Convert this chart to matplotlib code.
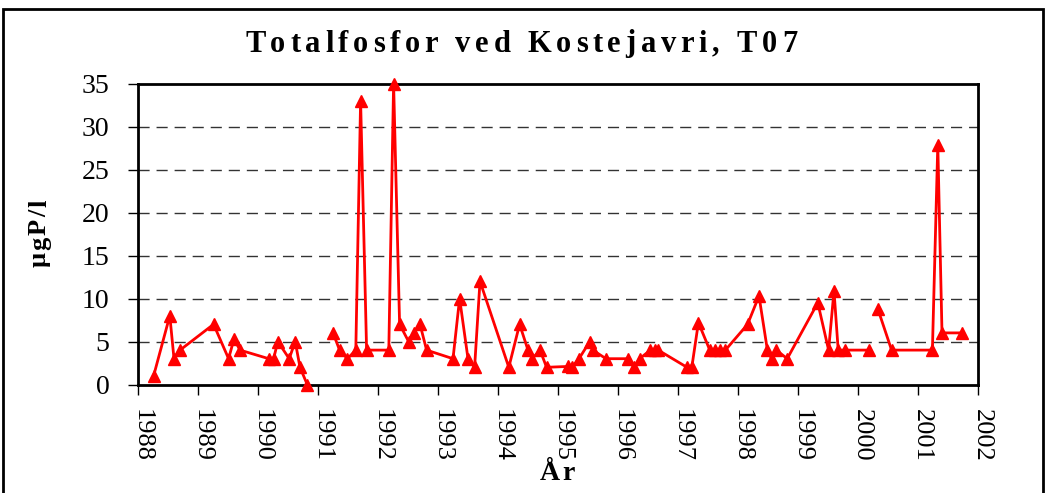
import numpy as np
import matplotlib
matplotlib.use("Agg")
import matplotlib.pyplot as plt
from matplotlib.patches import Rectangle
from matplotlib.transforms import ScaledTranslation
from matplotlib.font_manager import FontProperties, findfont
from matplotlib.ft2font import FT2Font

# Data (decimal year, µgP/l); NaN marks a break in the line
years = [1988.26, 1988.53, 1988.60, 1988.70, 1989.26, 1989.51, 1989.60, 1989.70,
         1990.18, 1990.26, 1990.33, 1990.52, 1990.62, 1990.70, 1990.82, 1991.0,
         1991.25, 1991.36, 1991.49, 1991.63, 1991.71, 1991.81, 1992.18, 1992.26,
         1992.36, 1992.51, 1992.60, 1992.70, 1992.81, 1993.25, 1993.36, 1993.50,
         1993.61, 1993.70, 1994.18, 1994.36, 1994.50, 1994.57, 1994.70, 1994.81,
         1995.17, 1995.23, 1995.35, 1995.53, 1995.58, 1995.80, 1996.16, 1996.27,
         1996.36, 1996.54, 1996.61, 1996.67, 1997.15, 1997.23, 1997.34, 1997.53,
         1997.61, 1997.70, 1997.79, 1998.16, 1998.35, 1998.49, 1998.56, 1998.64,
         1998.82, 1999.33, 1999.51, 1999.60, 1999.67, 1999.79, 2000.18, 2000.25,
         2000.33, 2000.56, 2001.24, 2001.33, 2001.40, 2001.73]
values = [1, 8, 3, 4, 7, 3, 5.3, 4,
          3, 3, 5, 3, 5, 2, 0, np.nan,
          6, 4, 3, 4, 33, 4, 4, 35,
          7, 5, 6, 7, 4, 3, 10, 3,
          2, 12, 2, 7, 4, 3, 4, 2,
          2.1, 2, 3, 5, 4, 3, 3, 2,
          3, 4, 4, 4, 2, 2, 7.2, 4,
          4, 4, 4, 7, 10.3, 4, 3, 4,
          3, 9.5, 4, 10.9, 4, 4, 4, np.nan,
          8.8, 4, 4, 27.9, 6, 6]
xticks = list(range(1988, 2003))
yticks = [0, 5, 10, 15, 20, 25, 30, 35]
title = "Totalfosfor ved Kostejavri, T07"
xlabel = "År"
ylabel = "µgP/l"

serif = ["Liberation Serif", "DejaVu Serif"]
DPI = 100
W, H = 1046, 493

fig = plt.figure(figsize=(W / DPI, H / DPI), dpi=DPI)


def advances(s, size, weight):
    path = findfont(FontProperties(family="Liberation Serif", weight=weight))
    f = FT2Font(path)
    f.set_size(size, DPI)
    return [f.load_char(ord(c)).linearHoriAdvance / 65536.0 for c in s]


def tracked(s, start_px, base_px, length_px, size, weight="bold", vertical=False):
    """Draw text char by char with letter spacing so that it spans length_px.
    start_px/base_px are pixel coords from the top-left corner."""
    adv = advances(s, size, weight)
    track = (length_px - sum(adv)) / (len(s) - 1)
    pos = 0.0
    for c, a in zip(s, adv):
        if vertical:
            x, y = base_px, start_px - pos
            rot = 90
        else:
            x, y = start_px + pos, base_px
            rot = 0
        fig.text(x / W, 1 - y / H, c, family=serif, fontsize=size,
                 fontweight=weight, rotation=rot, rotation_mode="anchor",
                 ha="left", va="baseline")
        pos += a + track


ax = fig.add_axes([138 / W, 1 - 384.5 / H, (978 - 138) / W, (384.5 - 83.5) / H])

ax.plot(years, values, color="#ff0000", lw=2, marker="^", markersize=8,
        markerfacecolor="#ff0000", markeredgecolor="#ff0000", zorder=3,
        clip_on=False)

ax.set_xlim(1988, 2002)
ax.set_ylim(0, 35)
ax.set_xticks(xticks)
ax.set_yticks(yticks)
ax.set_xticklabels([str(t) for t in xticks], rotation=-90, family=serif,
                   fontsize=19)
ax.set_yticklabels([str(t) for t in yticks], family=serif, fontsize=20)
ax.tick_params(direction="out", length=7.5, width=1, color="black")
ax.tick_params(axis="x", pad=10)
ax.tick_params(axis="y", pad=13)
for lab in ax.get_xticklabels():
    lab.set_transform(lab.get_transform() +
                      ScaledTranslation(4 / DPI, 0, fig.dpi_scale_trans))

for y in yticks[1:-1]:
    ax.axhline(y, color="#333333", lw=1, ls=(0, (8, 5)), zorder=1)

for s in ax.spines.values():
    s.set_linewidth(2)
    s.set_color("black")

# title and axis labels (letter-spaced like the original)
tracked(title, 245, 51.5, 552, 22)
tracked(xlabel, 540, 480, 35, 20)
tracked(ylabel, 267, 46, 67, 19, vertical=True)

# outer chart border
fig.patches.append(Rectangle((3 / W, -0.05), (1043 - 3) / W, 1 - 9 / H + 0.05,
                             transform=fig.transFigure, fill=False,
                             edgecolor="black", lw=2))

fig.savefig("out.png", dpi=DPI)
